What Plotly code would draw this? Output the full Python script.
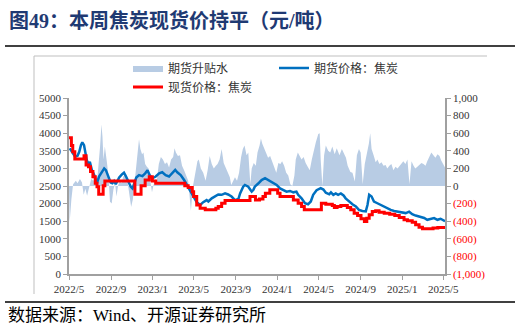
import plotly.graph_objects as go

# ---------------- data ----------------
futures_dates = ["2022-05-03","2022-05-11","2022-05-19","2022-05-26","2022-05-31","2022-06-05","2022-06-09","2022-06-14","2022-06-19","2022-06-22","2022-06-27","2022-07-01","2022-07-07","2022-07-14","2022-07-18","2022-07-23","2022-07-28","2022-08-05","2022-08-12","2022-08-17","2022-08-22","2022-08-26","2022-08-31","2022-09-05","2022-09-10","2022-09-15","2022-09-20","2022-09-25","2022-10-03","2022-10-09","2022-10-14","2022-10-19","2022-10-24","2022-10-29","2022-11-03","2022-11-08","2022-11-14","2022-11-22","2022-12-02","2022-12-10","2022-12-17","2022-12-23","2022-12-31","2023-01-10","2023-01-20","2023-01-29","2023-02-08","2023-02-18","2023-02-28","2023-03-08","2023-03-14","2023-03-24","2023-04-03","2023-04-13","2023-04-20","2023-04-27","2023-05-03","2023-05-10","2023-05-20","2023-05-29","2023-06-08","2023-06-13","2023-06-23","2023-07-02","2023-07-12","2023-07-22","2023-08-01","2023-08-10","2023-08-20","2023-08-30","2023-09-09","2023-09-14","2023-09-23","2023-09-28","2023-10-08","2023-10-13","2023-10-18","2023-10-23","2023-10-27","2023-11-06","2023-11-16","2023-11-26","2023-12-05","2023-12-10","2023-12-20","2023-12-30","2024-01-09","2024-01-18","2024-01-28","2024-02-07","2024-02-17","2024-02-26","2024-03-02","2024-03-12","2024-03-22","2024-03-31","2024-04-08","2024-04-15","2024-04-25","2024-05-07","2024-05-15","2024-05-22","2024-06-01","2024-06-06","2024-06-13","2024-06-20","2024-06-27","2024-07-05","2024-07-13","2024-07-19","2024-07-29","2024-08-08","2024-08-18","2024-08-27","2024-09-06","2024-09-16","2024-09-21","2024-09-26","2024-10-03","2024-10-10","2024-10-20","2024-10-30","2024-11-09","2024-11-18","2024-11-28","2024-12-08","2024-12-18","2024-12-27","2025-01-11","2025-01-21","2025-01-30","2025-02-09","2025-02-24","2025-03-06","2025-03-15","2025-03-25","2025-04-04","2025-04-14","2025-04-23","2025-05-06"]
futures_values = [3570,3430,3330,3360,3470,3660,3740,3660,3380,3240,3100,3190,2950,2810,2670,2620,2770,2910,3000,2950,2810,2720,2600,2580,2640,2550,2670,2740,2830,2880,2790,2670,2580,2480,2430,2580,2740,2810,2780,2860,2950,2810,2720,2770,2860,2890,2810,2770,2860,2960,2890,2810,2670,2500,2380,2250,2150,2040,1960,2040,2100,2060,2150,2200,2260,2250,2290,2260,2200,2100,2130,2290,2480,2530,2480,2410,2340,2390,2480,2570,2670,2720,2670,2620,2580,2530,2430,2390,2340,2360,2320,2340,2250,2150,2010,1980,2060,2250,2380,2440,2400,2310,2265,2320,2250,2290,2250,2290,2230,2150,2060,1980,1920,1820,1790,1780,1960,2250,2200,2060,2010,1960,1920,1870,1820,1790,1770,1750,1730,1770,1700,1660,1630,1590,1540,1570,1590,1540,1570,1500]

spot_dates = ["2022-05-01","2022-05-08","2022-05-12","2022-05-18","2022-06-14","2022-06-20","2022-06-27","2022-07-03","2022-07-10","2022-07-17","2022-07-22","2022-07-27","2022-08-09","2022-08-14","2022-11-10","2022-11-28","2022-12-10","2022-12-22","2022-12-31","2023-01-10","2023-04-05","2023-04-15","2023-04-27","2023-05-01","2023-05-10","2023-05-20","2023-06-04","2023-07-05","2023-07-12","2023-07-22","2023-08-01","2023-10-13","2023-10-29","2023-11-10","2023-11-20","2023-11-27","2023-12-10","2024-01-02","2024-01-09","2024-02-17","2024-03-02","2024-03-12","2024-03-20","2024-05-09","2024-05-22","2024-06-10","2024-06-16","2024-06-24","2024-07-05","2024-07-24","2024-08-03","2024-08-13","2024-08-23","2024-09-02","2024-09-12","2024-09-19","2024-09-26","2024-10-05","2024-10-15","2024-10-25","2024-11-09","2024-11-25","2024-12-10","2024-12-23","2025-01-06","2025-01-16","2025-01-30","2025-02-09","2025-02-19","2025-03-01","2025-04-01","2025-04-15","2025-05-06"]
spot_values = [3870,3650,3470,3265,3360,3095,3050,2910,2765,2580,2480,2265,2510,2640,2265,2510,2670,2765,2640,2576,2510,2454,2340,2200,1963,1870,1822,1870,1916,2010,2090,2200,2105,2130,2200,2295,2390,2295,2200,2105,2010,1916,1822,2010,1980,1944,1888,1916,1944,1888,1822,1728,1660,1567,1490,1586,1680,1775,1794,1756,1728,1700,1662,1605,1539,1510,1473,1398,1331,1285,1304,1322,1322]

basis_dates = ["2022-05-01","2022-05-03","2022-05-08","2022-05-13","2022-05-21","2022-05-26","2022-06-02","2022-06-08","2022-06-13","2022-06-18","2022-06-23","2022-06-29","2022-07-05","2022-07-11","2022-07-17","2022-07-23","2022-07-27","2022-07-31","2022-08-04","2022-08-07","2022-08-10","2022-08-14","2022-08-20","2022-08-25","2022-08-29","2022-09-03","2022-09-08","2022-09-13","2022-09-17","2022-09-22","2022-09-27","2022-10-02","2022-10-07","2022-10-13","2022-10-19","2022-10-25","2022-10-30","2022-11-04","2022-11-09","2022-11-14","2022-11-18","2022-11-22","2022-11-26","2022-12-01","2022-12-05","2022-12-10","2022-12-15","2022-12-20","2022-12-25","2022-12-30","2023-01-04","2023-01-08","2023-01-13","2023-01-19","2023-01-25","2023-01-31","2023-02-06","2023-02-12","2023-02-18","2023-02-24","2023-03-02","2023-03-06","2023-03-10","2023-03-16","2023-03-22","2023-03-28","2023-04-03","2023-04-09","2023-04-15","2023-04-23","2023-04-29","2023-05-06","2023-05-12","2023-05-16","2023-05-22","2023-05-29","2023-06-05","2023-06-11","2023-06-17","2023-06-23","2023-06-29","2023-07-05","2023-07-10","2023-07-16","2023-07-22","2023-07-28","2023-08-03","2023-08-09","2023-08-15","2023-08-19","2023-08-25","2023-08-30","2023-09-05","2023-09-11","2023-09-17","2023-09-22","2023-09-27","2023-10-03","2023-10-08","2023-10-14","2023-10-18","2023-10-24","2023-10-30","2023-11-04","2023-11-10","2023-11-14","2023-11-18","2023-11-24","2023-11-30","2023-12-05","2023-12-11","2023-12-17","2023-12-23","2023-12-29","2024-01-04","2024-01-10","2024-01-15","2024-01-21","2024-01-27","2024-02-02","2024-02-08","2024-02-14","2024-02-20","2024-02-24","2024-03-01","2024-03-06","2024-03-12","2024-03-18","2024-03-24","2024-03-30","2024-04-05","2024-04-11","2024-04-17","2024-04-23","2024-04-30","2024-05-04","2024-05-07","2024-05-12","2024-05-17","2024-05-22","2024-05-29","2024-06-04","2024-06-10","2024-06-17","2024-06-23","2024-07-01","2024-07-08","2024-07-13","2024-07-20","2024-07-25","2024-08-02","2024-08-08","2024-08-15","2024-08-21","2024-08-27","2024-09-01","2024-09-07","2024-09-13","2024-09-19","2024-09-25","2024-09-29","2024-10-03","2024-10-09","2024-10-15","2024-10-20","2024-10-26","2024-11-01","2024-11-07","2024-11-13","2024-11-18","2024-11-24","2024-11-30","2024-12-06","2024-12-12","2024-12-18","2024-12-24","2024-12-29","2025-01-04","2025-01-10","2025-01-16","2025-01-22","2025-01-28","2025-02-03","2025-02-08","2025-02-14","2025-02-20","2025-02-26","2025-03-04","2025-03-10","2025-03-15","2025-03-21","2025-03-27","2025-04-02","2025-04-08","2025-04-14","2025-04-20","2025-04-25","2025-05-01","2025-05-06"]
basis_values = [0,-410,-150,20,60,30,80,40,-100,-30,-110,-20,80,60,100,90,260,450,700,560,300,450,270,100,-180,-200,-40,30,-120,10,60,30,110,120,60,-100,-240,-150,50,270,380,530,420,360,380,250,220,200,60,-70,20,80,60,250,330,300,250,270,210,300,330,430,380,340,350,230,180,120,60,-280,0,150,280,300,200,150,60,180,340,250,200,230,250,300,420,260,200,150,100,10,60,100,60,150,330,420,460,350,380,20,200,260,230,380,460,540,480,420,380,320,340,270,200,150,260,250,280,230,150,120,20,0,120,300,380,340,300,330,260,220,180,300,420,500,590,600,300,0,350,460,400,380,450,360,430,350,420,380,320,230,160,150,50,350,420,380,20,250,350,480,600,420,350,270,300,250,270,230,240,200,230,250,180,220,200,230,260,280,250,300,20,280,230,200,220,240,260,250,230,280,340,380,350,320,360,340,290,240,210]

x_range = ["2022-05-01", "2025-05-06"]
left_ticks = [0, 500, 1000, 1500, 2000, 2500, 3000, 3500, 4000, 4500, 5000]
right_ticks = [-1000, -800, -600, -400, -200, 0, 200, 400, 600, 800, 1000]
right_labels = ['<span style="color:#FF0000">(1,000)</span>', '<span style="color:#FF0000">(800)</span>',
                '<span style="color:#FF0000">(600)</span>', '<span style="color:#FF0000">(400)</span>',
                '<span style="color:#FF0000">(200)</span>', '0', '200', '400', '600', '800', '1,000']

SERIF = "Liberation Serif, Noto Sans CJK SC, serif"

fig = go.Figure()
fig.add_trace(go.Scatter(
    x=basis_dates, y=basis_values, name="期货升贴水", yaxis="y",
    mode="lines", fill="tozeroy", line=dict(width=0, color="rgb(184,204,228)"),
    fillcolor="rgb(184,204,228)", legend="legend"))
fig.add_trace(go.Scatter(
    x=futures_dates, y=futures_values, name="期货价格：焦炭", yaxis="y2",
    mode="lines", line=dict(width=2.5, color="#0070C0"), legend="legend2"))
fig.add_trace(go.Scatter(
    x=spot_dates, y=spot_values, name="现货价格：焦炭", yaxis="y2",
    mode="lines", line=dict(width=3, color="#FF0000", shape="hv"), legend="legend3"))

L, R, T, B = 69, 80, 98, 54
PW, PH = 525 - L - R, 328 - T - B


def px(xp):
    return (xp - L) / PW


def py(yp):
    return (328 - B - yp) / PH


axis_common = dict(showgrid=False, zeroline=False, showline=True, linecolor="#A0A0A0",
                   linewidth=1.5, ticks="outside", ticklen=4, tickcolor="#A0A0A0",
                   tickfont=dict(family=SERIF, size=11, color="#333333"))

legend_common = dict(orientation="h", bgcolor="rgba(0,0,0,0)", borderwidth=0,
                     font=dict(family=SERIF, size=12, color="#333333"),
                     yanchor="middle", xanchor="left")

fig.update_layout(
    width=525, height=328,
    margin=dict(l=L, r=R, t=T, b=B),
    paper_bgcolor="white", plot_bgcolor="white",
    xaxis=dict(range=x_range, type="date", tick0="2022-05-01", dtick="M4",
               tickformat="%Y/%-m", **axis_common),
    yaxis=dict(range=[-1000, 1000], side="right", tickvals=right_ticks, ticktext=right_labels,
               **axis_common),
    yaxis2=dict(range=[0, 5000], side="left", overlaying="y", tickvals=left_ticks, **axis_common),
    showlegend=True,
    legend=dict(x=px(128), y=py(68), **legend_common),
    legend2=dict(x=px(274), y=py(68), **legend_common),
    legend3=dict(x=px(128), y=py(87), **legend_common),
    annotations=[
        dict(text="<b>图49：本周焦炭现货价持平（元/吨）</b>", xref="paper", yref="paper",
             x=px(7), y=py(20), xanchor="left", yanchor="middle", showarrow=False,
             font=dict(family=SERIF, size=20, color="#1F3A73")),
        dict(text="数据来源：Wind、开源证券研究所", xref="paper", yref="paper",
             x=px(6), y=py(315), xanchor="left", yanchor="middle", showarrow=False,
             font=dict(family=SERIF, size=17, color="#000000")),
    ],
    shapes=[
        dict(type="line", xref="paper", yref="paper", x0=px(5), x1=px(515), y0=py(46), y1=py(46),
             line=dict(color="#000000", width=1.5)),
        dict(type="line", xref="paper", yref="paper", x0=px(5), x1=px(515), y0=py(302), y1=py(302),
             line=dict(color="#000000", width=1.5)),
        dict(type="line", xref="paper", yref="paper", x0=px(34), x1=px(487), y0=py(56), y1=py(56),
             line=dict(color="#BFBFBF", width=1)),
        dict(type="line", xref="paper", yref="paper", x0=px(34), x1=px(34), y0=py(56), y1=py(294),
             line=dict(color="#BFBFBF", width=1)),
    ],
)

fig.write_html("out.html")
